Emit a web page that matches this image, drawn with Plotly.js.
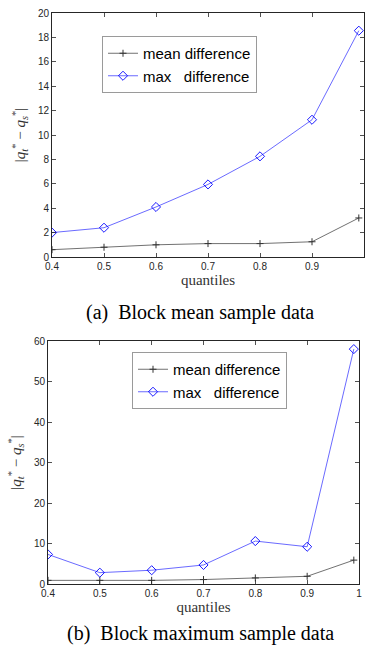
<!DOCTYPE html>
<html>
<head>
<meta charset="utf-8">
<script src="https://cdn.plot.ly/plotly-3.0.1.min.js"></script>
<style>
html,body{margin:0;padding:0;background:#fff;}
#chart{width:365px;height:645px;}
</style>
</head>
<body>
<div id="chart"></div>
<script>
// Data
const quantiles = [0.4, 0.5, 0.6, 0.7, 0.8, 0.9, 0.99];
const meanDiffA = [0.6, 0.8, 1.0, 1.1, 1.1, 1.25, 3.2];
const maxDiffA  = [2.0, 2.4, 4.1, 5.95, 8.25, 11.25, 18.55];
const meanDiffB = [0.9, 0.9, 0.9, 1.1, 1.5, 1.9, 5.9];
const maxDiffB  = [7.3, 2.8, 3.4, 4.7, 10.6, 9.2, 58.0];

const xTickVals = [0.4, 0.5, 0.6, 0.7, 0.8, 0.9, 1];
const xTickText = ['0.4', '0.5', '0.6', '0.7', '0.8', '0.9', '1'];
const yTickValsA = [0, 2, 4, 6, 8, 10, 12, 14, 16, 18, 20];
const yTickValsB = [0, 10, 20, 30, 40, 50, 60];

const seriesNames = ['mean difference', 'max\u00a0\u00a0\u00a0difference'];
const captions = ['(a)\u00a0 Block mean sample data', '(b)\u00a0 Block maximum sample data'];

const W = 365, H = 645;
const px = v => v / W;
const py = v => 1 - v / H;

const meanStyle = {
  mode: 'lines+markers',
  line: {color: '#333333', width: 0.7},
  marker: {symbol: 'cross-thin-open', size: 5, line: {color: '#000000', width: 1}}
};
const maxStyle = {
  mode: 'lines+markers',
  line: {color: '#4444ff', width: 0.8},
  marker: {symbol: 'diamond-open', size: 7, color: '#0000ff', line: {color: '#2222ff', width: 0.9}}
};

const traces = [
  Object.assign({x: quantiles, y: meanDiffA, name: seriesNames[0], xaxis: 'x', yaxis: 'y', legend: 'legend'}, meanStyle),
  Object.assign({x: quantiles, y: maxDiffA, name: seriesNames[1], xaxis: 'x', yaxis: 'y', legend: 'legend'}, maxStyle),
  Object.assign({x: quantiles, y: meanDiffB, name: seriesNames[0], xaxis: 'x2', yaxis: 'y2', legend: 'legend2'}, meanStyle),
  Object.assign({x: quantiles, y: maxDiffB, name: seriesNames[1], xaxis: 'x2', yaxis: 'y2', legend: 'legend2'}, maxStyle)
];

const tickFont = {family: 'Liberation Sans, Arial, sans-serif', size: 10, color: '#262626'};
const axisCommon = {
  showgrid: false, zeroline: false,
  showline: true, linecolor: '#262626', linewidth: 1,
  mirror: 'ticks', ticks: 'inside', ticklen: 4, tickwidth: 0.8, tickcolor: '#262626',
  tickfont: tickFont
};
const xTitle = {text: 'quantiles', font: {family: 'Liberation Serif, Times New Roman, serif', size: 15, color: '#333333'}, standoff: 3};
const yTitle = {
  text: '|<i>q</i><sub><i>t</i></sub><sup>*</sup> \u2212 <i>q</i><sub><i>s</i></sub><sup>*</sup>|',
  font: {family: 'Liberation Serif, Times New Roman, serif', size: 15, color: '#333333'},
  standoff: 8
};

const legendCommon = {
  bgcolor: '#ffffff', bordercolor: '#9a9a9a', borderwidth: 1,
  font: {family: 'Liberation Sans, Arial, sans-serif', size: 15, color: '#000000'},
  xanchor: 'left', yanchor: 'top', tracegroupgap: 0
};

const layout = {
  width: W, height: H,
  margin: {l: 0, r: 0, t: 0, b: 0},
  paper_bgcolor: '#ffffff', plot_bgcolor: '#ffffff',
  showlegend: true,
  xaxis: Object.assign({}, axisCommon, {
    domain: [px(52), px(364)], range: [0.4, 1], anchor: 'y',
    tickvals: xTickVals, ticktext: xTickText, title: xTitle
  }),
  yaxis: Object.assign({}, axisCommon, {
    domain: [py(257), py(13)], range: [0, 20], anchor: 'x',
    tickvals: yTickValsA, title: yTitle
  }),
  xaxis2: Object.assign({}, axisCommon, {
    domain: [px(48), px(359)], range: [0.4, 1], anchor: 'y2',
    tickvals: xTickVals, ticktext: xTickText, title: xTitle
  }),
  yaxis2: Object.assign({}, axisCommon, {
    domain: [py(584), py(341)], range: [0, 60], anchor: 'x2',
    tickvals: yTickValsB, title: yTitle
  }),
  legend: Object.assign({}, legendCommon, {x: px(102), y: py(36)}),
  legend2: Object.assign({}, legendCommon, {x: px(132), y: py(352)}),
  annotations: [
    {text: captions[0], xref: 'paper', yref: 'paper', x: px(200), y: py(312), xanchor: 'center', yanchor: 'middle',
     showarrow: false, font: {family: 'Liberation Serif, Times New Roman, serif', size: 20, color: '#000000'}},
    {text: captions[1], xref: 'paper', yref: 'paper', x: px(200), y: py(633), xanchor: 'center', yanchor: 'middle',
     showarrow: false, font: {family: 'Liberation Serif, Times New Roman, serif', size: 20, color: '#000000'}}
  ]
};

Plotly.newPlot('chart', traces, layout, {staticPlot: true, displayModeBar: false});
</script>
</body>
</html>
